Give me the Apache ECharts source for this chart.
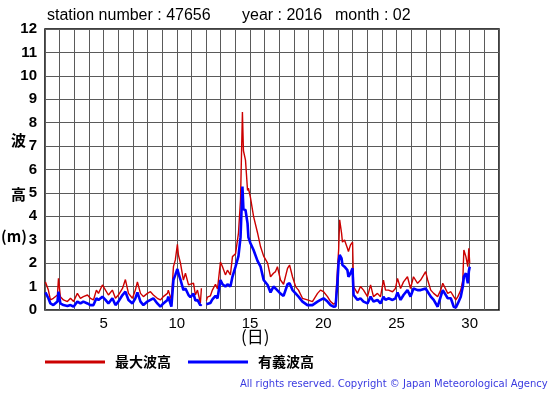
<!DOCTYPE html>
<html>
<head>
<meta charset="utf-8">
<script src="https://cdn.jsdelivr.net/npm/echarts@6/dist/echarts.min.js"></script>
<style>
html,body{margin:0;padding:0;background:#fff;}
#chart{width:555px;height:395px;}
</style>
</head>
<body>
<div id="chart"></div>
<script>
// Time of each reading, in days of the month (day + fraction of day)
var times = [
1.03,1.10,1.23,1.37,1.57,1.85,1.92,2.05,2.26,2.53,2.74,2.95,3.21,3.42,3.62,3.90,4.10,4.31,4.51,4.65,
4.92,5.13,5.33,5.60,5.81,6.01,6.29,6.49,6.70,6.97,7.17,7.31,7.52,7.72,7.99,8.20,8.40,8.67,8.88,9.08,
9.36,9.42,9.63,9.77,9.90,10.04,10.11,10.25,10.45,10.59,10.80,10.93,11.14,11.27,11.41,11.61,11.68,11.85,
12.02,12.09,12.29,12.43,12.64,12.78,12.98,13.12,13.32,13.46,13.66,13.80,14.01,14.21,14.35,14.48,14.55,
14.69,14.83,14.89,15.03,15.24,15.51,15.72,15.93,16.20,16.40,16.60,16.74,16.87,17.08,17.29,17.56,17.70,
17.90,18.11,18.31,18.58,18.92,19.26,19.61,19.81,20.02,20.29,20.50,20.70,20.84,20.98,21.05,21.12,21.25,
21.31,21.45,21.65,21.72,21.86,22.00,22.07,22.20,22.34,22.54,22.75,23.02,23.23,23.43,23.70,23.91,24.11,
24.25,24.45,24.73,24.93,25.07,25.28,25.48,25.75,25.96,26.16,26.44,26.65,26.99,27.13,27.34,27.54,27.81,
28.02,28.16,28.50,28.71,28.91,29.05,29.19,29.39,29.53,29.60,29.74,29.87,29.94,30.00
];
// 最大波高 (maximum wave height, m)
var maxWave = [
1.20,1.28,0.85,0.43,0.50,0.64,1.35,0.57,0.43,0.36,0.50,0.36,0.71,0.50,0.57,0.64,0.50,0.43,0.85,0.71,
1.07,0.85,0.64,0.85,0.50,0.64,0.92,1.30,0.71,0.50,0.85,1.20,0.71,0.57,0.71,0.78,0.64,0.50,0.43,0.57,
0.71,0.85,0.43,1.85,2.14,2.80,2.35,2.00,1.28,1.57,1.07,1.00,1.15,0.64,0.85,0.30,0.93,null,
0.40,0.55,0.60,0.85,1.10,0.90,2.05,1.85,1.50,1.70,1.50,2.28,2.40,3.28,4.70,8.45,6.80,
6.40,5.10,5.20,4.80,4.00,3.30,2.70,2.30,2.00,1.42,1.57,1.64,1.85,1.28,1.10,1.78,1.92,
1.42,1.00,0.85,0.50,0.43,0.36,0.71,0.85,0.78,0.57,0.36,0.25,0.30,1.85,2.56,3.85,3.28,
2.90,2.99,2.64,2.50,2.78,2.90,1.00,1.00,0.71,1.00,0.85,0.57,1.07,0.57,0.71,0.57,1.28,
0.85,0.85,0.78,0.92,1.35,0.92,1.20,1.42,0.92,1.42,1.14,1.28,1.64,1.28,0.85,0.71,0.57,
0.85,1.14,0.71,0.78,0.57,0.43,0.57,0.85,1.28,2.56,2.28,1.85,2.64,2.00
];
// 有義波高 (significant wave height, m)
var sigWave = [
0.75,0.71,0.50,0.28,0.21,0.36,0.78,0.28,0.21,0.17,0.21,0.14,0.36,0.28,0.36,0.28,0.21,0.21,0.50,0.43,
0.57,0.43,0.28,0.50,0.21,0.36,0.64,0.78,0.43,0.28,0.50,0.75,0.36,0.21,0.36,0.43,0.50,0.28,0.14,0.28,
0.43,0.57,0.14,1.28,1.50,1.75,1.57,1.30,0.85,0.92,0.64,0.55,0.70,0.40,0.43,0.20,0.25,null,
0.25,0.30,0.30,0.45,0.60,0.50,1.28,1.10,1.00,1.10,1.00,1.42,1.85,2.30,3.10,5.27,4.30,
4.27,3.70,3.10,2.85,2.56,2.10,1.85,1.28,1.07,0.75,1.00,0.92,1.00,0.70,0.60,1.10,1.14,
0.85,0.71,0.57,0.36,0.21,0.21,0.36,0.43,0.50,0.36,0.21,0.14,0.15,1.28,2.06,2.35,2.20,
1.92,1.85,1.70,1.42,1.57,1.78,0.64,0.57,0.43,0.50,0.36,0.28,0.57,0.36,0.43,0.28,0.57,
0.43,0.50,0.43,0.50,0.75,0.43,0.64,0.85,0.57,0.92,0.85,0.85,0.92,0.78,0.57,0.43,0.14,
0.57,0.85,0.50,0.50,0.14,0.10,0.28,0.57,1.00,1.42,1.57,1.14,1.64,1.85
];
var seriesNames = ['最大波高', '有義波高'];
var xTickLabels = [5, 10, 15, 20, 25, 30];
var yTickLabels = [0,1,2,3,4,5,6,7,8,9,10,11,12];

function pairs(vals){
  var out = [];
  for (var i = 0; i < times.length; i++) out.push([times[i], vals[i]]);
  return out;
}

var chart = echarts.init(document.getElementById('chart'), null, {renderer:'canvas'});
var fontLatin = '"Liberation Sans", Arial, sans-serif';
var fontCJK = '"Noto Sans CJK JP", "Noto Sans", sans-serif';

chart.setOption({
  animation: false,
  backgroundColor: '#ffffff',
  grid: {left: 45, top: 29, width: 454, height: 281, show: true,
         borderColor: '#000', borderWidth: 1.5, backgroundColor: 'transparent'},
  legend: {
    left: 45, top: 355, padding: 0, itemWidth: 60, itemHeight: 3, itemGap: 17,
    icon: 'rect',
    textStyle: {fontFamily: fontCJK, fontWeight: 'bold', fontSize: 14, color: '#000', padding:[0,0,0,5]},
    data: seriesNames
  },
  xAxis: {
    type: 'value', min: 1, max: 32, interval: 1,
    axisLine: {show: false}, axisTick: {show: false},
    splitLine: {show: true, lineStyle: {color: '#5a5a5a', width: 1}},
    axisLabel: {
      fontFamily: fontLatin, fontSize: 15, color: '#000', margin: 6,
      formatter: function(v){ return xTickLabels.indexOf(v) >= 0 ? String(v) : ''; }
    }
  },
  yAxis: {
    type: 'value', min: 0, max: 12, interval: 1,
    axisLine: {show: false}, axisTick: {show: false},
    splitLine: {show: true, lineStyle: {color: '#5a5a5a', width: 1}},
    axisLabel: {
      fontFamily: fontLatin, fontSize: 15, fontWeight: 'bold', color: '#000', margin: 8,
      formatter: function(v){ return yTickLabels.indexOf(v) >= 0 ? String(v) : ''; }
    }
  },
  series: [
    {name: seriesNames[0], type: 'line', data: pairs(maxWave), showSymbol: false,
     connectNulls: false, color: '#cc0000', lineStyle: {color: '#cc0000', width: 1.4}},
    {name: seriesNames[1], type: 'line', data: pairs(sigWave), showSymbol: false,
     connectNulls: false, color: '#0000ff', lineStyle: {color: '#0000ff', width: 2.6}}
  ],
  graphic: [
    {type: 'text', left: 47, top: 8, style: {text: 'station number : 47656', font: '16px ' + fontLatin, fill: '#000'}},
    {type: 'text', left: 242, top: 8, style: {text: 'year : 2016', font: '16px ' + fontLatin, fill: '#000'}},
    {type: 'text', left: 335, top: 8, style: {text: 'month : 02', font: '16px ' + fontLatin, fill: '#000'}},
    {type: 'text', left: 11, top: 133, style: {text: '波', font: 'bold 15px ' + fontCJK, fill: '#000'}},
    {type: 'text', left: 11, top: 187, style: {text: '高', font: 'bold 15px ' + fontCJK, fill: '#000'}},
    {type: 'text', left: 1, top: 229, style: {text: '(m)', font: 'bold 15px ' + fontCJK, fill: '#000'}},
    {type: 'text', left: 241, top: 328, style: {text: '(日)', font: '17px ' + fontCJK, fill: '#000'}},
    {type: 'text', left: 240, top: 379, style: {text: 'All rights reserved. Copyright © Japan Meteorological Agency', font: '10px "DejaVu Sans", sans-serif', fill: '#3a3ae0'}}
  ]
});
</script>
</body>
</html>
